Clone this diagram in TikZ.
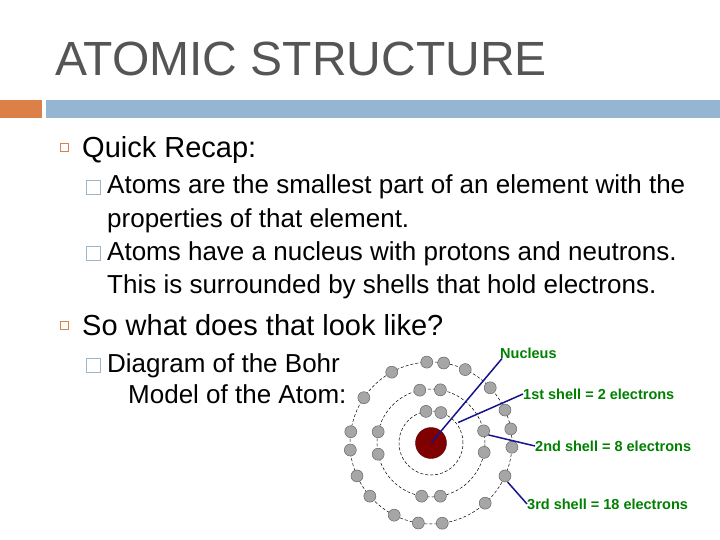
\documentclass[tikz,border=0pt]{standalone}
\usepackage{fontspec}
\setmainfont{Liberation Sans}
\definecolor{ttl}{RGB}{85,85,85}
\definecolor{orng}{RGB}{221,128,71}
\definecolor{blu}{RGB}{148,182,210}
\definecolor{sq}{RGB}{160,180,200}
\definecolor{lbl}{RGB}{0,128,0}
\definecolor{lnk}{RGB}{20,20,140}
\definecolor{nuc}{RGB}{128,0,0}
\begin{document}
\begin{tikzpicture}[x=1pt,y=-1pt,
  txt/.style={anchor=base west,inner sep=0pt,font=\fontsize{26}{30}\selectfont},
  big/.style={anchor=base west,inner sep=0pt,font=\fontsize{29}{33}\selectfont},
  lab/.style={anchor=west,inner sep=0pt,text=lbl,font=\fontsize{14.5}{16}\selectfont\bfseries},
  sub/.style={draw=sq,line width=0.8pt},
  shell/.style={densely dashed,line width=0.5pt},
  el/.style={circle,draw=black!60,fill=gray!70,line width=0.5pt,minimum size=12pt,inner sep=0pt},
  con/.style={draw=lnk,line width=1.5pt}]
\useasboundingbox (0,0) rectangle (720,540);
\node[anchor=base west,inner sep=0pt,text=ttl,font=\fontsize{48}{52}\selectfont] (title) at (55,76) {ATOMIC STRUCTURE};
\fill[orng] (0,100) rectangle (42,118);
\fill[blu] (46,100) rectangle (720,118);
\draw[orng,line width=1pt] (60,144) rectangle (68,152);
\node[big] (q) at (82,158) {Quick Recap:};
\draw[sub] (86,180) rectangle (100,194);
\node[txt] (a1) at (107,194) {Atoms are the smallest part of an element with the};
\node[txt] (a2) at (107,227) {properties of that element.};
\draw[sub] (86,246) rectangle (100,260);
\node[txt] (a3) at (107,260) {Atoms have a nucleus with protons and neutrons.};
\node[txt] (a4) at (107,293) {This is surrounded by shells that hold electrons.};
\draw[orng,line width=1pt] (60,321) rectangle (68,329);
\node[big] (so) at (82,335) {So what does that look like?};
\draw[sub] (86,358) rectangle (100,372);
\node[txt] (d1) at (107,372) {Diagram of the Bohr};
\node[txt] (d2) at (128,403) {Model of the Atom:};
% atom
\begin{scope}[shift={(431,443)},y=1pt]
\draw[shell] (0,0) circle (32);
\draw[shell] (0,0) circle (54);
\draw[shell] (0,0) circle (81);
\node[circle,fill=nuc,draw=nuc!70!black,minimum size=31pt,inner sep=0pt] (n) at (0,0) {};
\foreach \a in {99,72} \node[el] at (\a:32) {};
\foreach \a in {102,80,168,192,13,-10,-100,-80} \node[el] at (\a:54) {};
\foreach \a in {93,81,65,43,24,10,-3,-24,-48,-82,-99,-117,-139,-156,-175,172,146,119} \node[el] at (\a:81) {};
\coordinate (p1) at (0,0);
\coordinate (p2) at (37:34);
\coordinate (p3) at (8:58);
\coordinate (p4) at (-27:86);
\end{scope}
\node[lab] (ln) at (500,353) {Nucleus};
\node[lab] (l1) at (523,394) {1st shell = 2 electrons};
\node[lab] (l2) at (535,446) {2nd shell = 8 electrons};
\node[lab] (l3) at (527,504) {3rd shell = 18 electrons};
\draw[con] ([xshift=2pt]ln.south west) -- (p1);
\draw[con] (l1.west) -- (p2);
\draw[con] (l2.west) -- (p3);
\draw[con] (l3.west) -- (p4);
\end{tikzpicture}
\end{document}
